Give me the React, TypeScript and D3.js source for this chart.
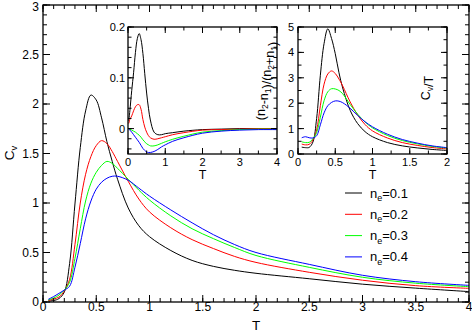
import React, { useEffect, useRef } from "react";
import * as d3 from "d3";

// main panel: specific heat vs temperature
const T_MAIN = [0.05, 0.1, 0.15, 0.2, 0.25, 0.3, 0.35, 0.4, 0.45, 0.5, 0.55, 0.6, 0.65, 0.7, 0.8, 0.9, 1.0, 1.2, 1.4, 1.6, 1.8, 2.0, 2.5, 3.0, 3.5, 4.0];
const CV_01 = [0.01, 0.015, 0.035, 0.1, 0.39, 0.99, 1.56, 1.93, 2.09, 2.04, 1.86, 1.62, 1.42, 1.24, 0.95, 0.77, 0.66, 0.52, 0.42, 0.36, 0.32, 0.29, 0.235, 0.18, 0.14, 0.105];
const CV_02 = [0.015, 0.03, 0.05, 0.11, 0.23, 0.58, 1.0, 1.29, 1.47, 1.58, 1.63, 1.6, 1.52, 1.42, 1.22, 1.04, 0.91, 0.75, 0.63, 0.54, 0.46, 0.4, 0.3, 0.22, 0.165, 0.138];
const CV_03 = [0.02, 0.04, 0.07, 0.12, 0.2, 0.44, 0.74, 1.02, 1.2, 1.31, 1.38, 1.42, 1.4, 1.35, 1.24, 1.13, 1.03, 0.87, 0.74, 0.64, 0.55, 0.47, 0.35, 0.25, 0.19, 0.155];
const CV_04 = [0.027, 0.055, 0.087, 0.12, 0.16, 0.35, 0.59, 0.84, 1.02, 1.14, 1.21, 1.25, 1.27, 1.27, 1.23, 1.15, 1.07, 0.93, 0.8, 0.68, 0.58, 0.5, 0.38, 0.27, 0.205, 0.168];

// inset 1: (n2-n1)/(n2+n1)
const T_DN = [0.02, 0.05, 0.1, 0.15, 0.2, 0.25, 0.3, 0.35, 0.4, 0.45, 0.5, 0.55, 0.6, 0.7, 0.8, 0.9, 1.0, 1.2, 1.5, 2.0, 2.5, 3.0, 3.5, 4.0];
const DN_01 = [0.015, 0.035, 0.075, 0.11, 0.15, 0.177, 0.187, 0.175, 0.148, 0.108, 0.07, 0.04, 0.017, -0.007, -0.012, -0.012, -0.01, -0.008, -0.005, -0.002, -0.001, 0, 0, 0];
const DN_02 = [0.01, 0.018, 0.025, 0.035, 0.043, 0.047, 0.047, 0.038, 0.018, 0.003, -0.007, -0.014, -0.018, -0.021, -0.02, -0.018, -0.016, -0.012, -0.008, -0.003, -0.002, -0.001, 0, 0];
const DN_03 = [0, -0.001, -0.003, -0.005, -0.007, -0.01, -0.013, -0.017, -0.022, -0.026, -0.03, -0.032, -0.034, -0.034, -0.032, -0.029, -0.026, -0.021, -0.015, -0.007, -0.004, -0.002, -0.001, -0.001];
const DN_04 = [0, -0.003, -0.007, -0.012, -0.017, -0.022, -0.027, -0.033, -0.039, -0.043, -0.046, -0.047, -0.047, -0.045, -0.041, -0.036, -0.032, -0.025, -0.018, -0.009, -0.005, -0.003, -0.002, -0.002];

// inset 2: Cv/T
const T_CVT = [0.05, 0.1, 0.15, 0.2, 0.25, 0.3, 0.35, 0.4, 0.45, 0.5, 0.55, 0.6, 0.7, 0.8, 0.9, 1.0, 1.2, 1.4, 1.6, 1.8, 2.0];
const CVT_01 = [0.27, 0.25, 0.26, 0.47, 1.4, 3.1, 4.35, 4.93, 4.55, 3.95, 3.2, 2.6, 1.72, 1.2, 0.88, 0.68, 0.45, 0.32, 0.24, 0.18, 0.14];
const CVT_02 = [0.39, 0.36, 0.38, 0.55, 0.95, 1.9, 2.75, 3.15, 3.27, 3.17, 2.95, 2.68, 2.05, 1.54, 1.16, 0.91, 0.63, 0.45, 0.34, 0.255, 0.2];
const CVT_03 = [0.48, 0.45, 0.46, 0.6, 0.85, 1.45, 2.1, 2.45, 2.57, 2.56, 2.5, 2.37, 1.95, 1.57, 1.26, 1.03, 0.73, 0.53, 0.4, 0.3, 0.235];
const CVT_04 = [0.64, 0.68, 0.64, 0.63, 0.72, 1.15, 1.62, 1.9, 2.03, 2.09, 2.08, 2.02, 1.8, 1.52, 1.27, 1.07, 0.78, 0.57, 0.43, 0.32, 0.25];

const NE_LABELS = ["0.1", "0.2", "0.3", "0.4"];
const COLORS = ["#000000", "#ff0000", "#00ff00", "#0000ff"];

const FONT = "'Liberation Sans', Arial, Helvetica, sans-serif";

type Sel = d3.Selection<SVGGElement, unknown, null, undefined>;

const frame = (
  g: Sel,
  x: d3.ScaleLinear<number, number>,
  y: d3.ScaleLinear<number, number>,
  xMajor: number[],
  xMinor: number[],
  yMajor: number[],
  yMinor: number[],
  majLen: number,
  minLen: number
) => {
  const [x0, x1] = x.range();
  const [y0, y1] = y.range();
  const tick = (v: number, len: number, horiz: boolean) => {
    if (horiz) {
      const px = x(v);
      g.append("line").attr("x1", px).attr("x2", px).attr("y1", y0).attr("y2", y0 - len);
      g.append("line").attr("x1", px).attr("x2", px).attr("y1", y1).attr("y2", y1 + len);
    } else {
      const py = y(v);
      g.append("line").attr("x1", x0).attr("x2", x0 + len).attr("y1", py).attr("y2", py);
      g.append("line").attr("x1", x1).attr("x2", x1 - len).attr("y1", py).attr("y2", py);
    }
  };
  xMinor.forEach((v) => tick(v, minLen, true));
  xMajor.forEach((v) => tick(v, majLen, true));
  yMinor.forEach((v) => tick(v, minLen, false));
  yMajor.forEach((v) => tick(v, majLen, false));
  g.selectAll("line").attr("stroke", "#000").attr("stroke-width", 1);
  g.append("rect")
    .attr("x", x0)
    .attr("y", y1)
    .attr("width", x1 - x0)
    .attr("height", y0 - y1)
    .attr("fill", "none")
    .attr("stroke", "#000")
    .attr("stroke-width", 1.3);
};

const App = () => {
  const ref = useRef<SVGSVGElement>(null);

  useEffect(() => {
    const svg = d3.select(ref.current);
    svg.selectAll("*").remove();
    svg.style("font-family", FONT);

    const smooth = d3.curveCatmullRom.alpha(0.5);

    // ---------- main plot ----------
    const x = d3.scaleLinear().domain([0, 4]).range([43, 469]);
    const y = d3.scaleLinear().domain([0, 3]).range([302, 5]);
    const main = svg.append("g");

    const mainSeries = [CV_01, CV_02, CV_03, CV_04];
    const line = d3
      .line<number>()
      .x((_, i) => x(T_MAIN[i]))
      .y((d) => y(d))
      .curve(smooth);
    mainSeries.forEach((s, k) => {
      main
        .append("path")
        .attr("d", line(s))
        .attr("fill", "none")
        .attr("stroke", COLORS[k])
        .attr("stroke-width", 1);
    });

    frame(
      main.append("g"),
      x,
      y,
      d3.range(0, 4.01, 0.5),
      d3.range(0, 4.01, 0.1),
      d3.range(0, 3.01, 0.5),
      d3.range(0, 3.01, 0.1),
      7,
      4
    );

    d3.range(0, 4.01, 0.5).forEach((v) => {
      main
        .append("text")
        .attr("x", x(v))
        .attr("y", 311)
        .attr("text-anchor", "middle")
        .style("font-size", "12px")
        .text(d3.format("~g")(v));
    });
    d3.range(0, 3.01, 0.5).forEach((v) => {
      main
        .append("text")
        .attr("x", 39)
        .attr("y", Math.max(y(v) + 4.3, 10.5))
        .attr("text-anchor", "end")
        .style("font-size", "12px")
        .text(d3.format("~g")(v));
    });
    main
      .append("text")
      .attr("x", x(2))
      .attr("y", 330)
      .attr("text-anchor", "middle")
      .style("font-size", "13.5px")
      .text("T");
    const cvLab = main
      .append("text")
      .attr("transform", "translate(13.5,153) rotate(-90)")
      .attr("text-anchor", "middle")
      .style("font-size", "13.5px");
    cvLab.append("tspan").text("C");
    cvLab.append("tspan").attr("dy", 3).style("font-size", "9.5px").text("v");

    // legend
    NE_LABELS.forEach((lab, k) => {
      const ly = 193 + k * 21.3;
      main
        .append("line")
        .attr("x1", 345)
        .attr("x2", 362)
        .attr("y1", ly)
        .attr("y2", ly)
        .attr("stroke", COLORS[k])
        .attr("stroke-width", 1);
      const t = main
        .append("text")
        .attr("x", 370)
        .attr("y", ly + 4.5)
        .style("font-size", "13px");
      t.append("tspan").text("n");
      t.append("tspan").attr("dy", 3.5).style("font-size", "9px").text("e");
      t.append("tspan").attr("dy", -3.5).text("=" + lab);
    });

    const sub = (node: d3.Selection<SVGTextElement, unknown, null, undefined>, base: string, s: string) => {
      node.append("tspan").text(base);
      node.append("tspan").attr("dy", 3).style("font-size", "8.5px").text(s);
      node.append("tspan").attr("dy", -3).text("");
    };

    // ---------- inset 1 ----------
    const x1 = d3.scaleLinear().domain([0, 4]).range([128, 277]);
    const y1 = d3.scaleLinear().domain([-0.05, 0.2]).range([154, 27]);
    const in1 = svg.append("g");
    in1
      .append("rect")
      .attr("x", 128)
      .attr("y", 27)
      .attr("width", 149)
      .attr("height", 127)
      .attr("fill", "#fff");
    svg
      .append("clipPath")
      .attr("id", "clip1")
      .append("rect")
      .attr("x", 128)
      .attr("y", 27)
      .attr("width", 149)
      .attr("height", 127);
    const line1 = d3
      .line<number>()
      .x((_, i) => x1(T_DN[i]))
      .y((d) => y1(d))
      .curve(smooth);
    [DN_01, DN_02, DN_03, DN_04].forEach((s, k) => {
      in1
        .append("path")
        .attr("d", line1(s))
        .attr("clip-path", "url(#clip1)")
        .attr("fill", "none")
        .attr("stroke", COLORS[k])
        .attr("stroke-width", 1);
    });
    frame(
      in1.append("g"),
      x1,
      y1,
      d3.range(0, 4.01, 1),
      d3.range(0, 4.01, 0.5),
      [0, 0.1, 0.2],
      d3.range(-0.04, 0.201, 0.02),
      6,
      3.5
    );
    d3.range(0, 4.01, 1).forEach((v) => {
      in1
        .append("text")
        .attr("x", x1(v))
        .attr("y", 166)
        .attr("text-anchor", "middle")
        .style("font-size", "11px")
        .text(d3.format("~g")(v));
    });
    [0, 0.1, 0.2].forEach((v) => {
      in1
        .append("text")
        .attr("x", 125)
        .attr("y", y1(v) + 4)
        .attr("text-anchor", "end")
        .style("font-size", "11px")
        .text(d3.format("~g")(v));
    });
    in1
      .append("text")
      .attr("x", x1(2))
      .attr("y", 179)
      .attr("text-anchor", "middle")
      .style("font-size", "12.5px")
      .text("T");
    const dnLab = in1
      .append("text")
      .attr("transform", "translate(265,81) rotate(-90)")
      .attr("text-anchor", "middle")
      .style("font-size", "12.5px");
    dnLab.append("tspan").text("(");
    sub(dnLab, "n", "2");
    dnLab.append("tspan").text("-");
    sub(dnLab, "n", "1");
    dnLab.append("tspan").text(")/(");
    sub(dnLab, "n", "2");
    dnLab.append("tspan").text("+");
    sub(dnLab, "n", "1");
    dnLab.append("tspan").text(")");

    // ---------- inset 2 ----------
    const x2 = d3.scaleLinear().domain([0, 2]).range([298, 447]);
    const y2 = d3.scaleLinear().domain([0, 5]).range([154, 27]);
    const in2 = svg.append("g");
    in2
      .append("rect")
      .attr("x", 298)
      .attr("y", 27)
      .attr("width", 149)
      .attr("height", 127)
      .attr("fill", "#fff");
    const line2 = d3
      .line<number>()
      .x((_, i) => x2(T_CVT[i]))
      .y((d) => y2(d))
      .curve(smooth);
    [CVT_01, CVT_02, CVT_03, CVT_04].forEach((s, k) => {
      in2
        .append("path")
        .attr("d", line2(s))
        .attr("fill", "none")
        .attr("stroke", COLORS[k])
        .attr("stroke-width", 1);
    });
    frame(
      in2.append("g"),
      x2,
      y2,
      d3.range(0, 2.01, 0.5),
      d3.range(0, 2.01, 0.25),
      d3.range(0, 5.01, 1),
      d3.range(0, 5.01, 0.5),
      6,
      3.5
    );
    d3.range(0, 2.01, 0.5).forEach((v) => {
      in2
        .append("text")
        .attr("x", x2(v))
        .attr("y", 166)
        .attr("text-anchor", "middle")
        .style("font-size", "11px")
        .text(d3.format("~g")(v));
    });
    d3.range(0, 5.01, 1).forEach((v) => {
      in2
        .append("text")
        .attr("x", 294)
        .attr("y", y2(v) + 4)
        .attr("text-anchor", "end")
        .style("font-size", "11px")
        .text(d3.format("~g")(v));
    });
    in2
      .append("text")
      .attr("x", x2(1))
      .attr("y", 179)
      .attr("text-anchor", "middle")
      .style("font-size", "12.5px")
      .text("T");
    const cvtLab = in2
      .append("text")
      .attr("transform", "translate(430,88) rotate(-90)")
      .attr("text-anchor", "middle")
      .style("font-size", "12.5px");
    sub(cvtLab, "C", "v");
    cvtLab.append("tspan").text("/T");
  }, []);

  return (
    <svg
      ref={ref}
      width={472}
      height={332}
      style={{ position: "absolute", left: 0, top: 0, background: "#fff" }}
    />
  );
};

export default App;
